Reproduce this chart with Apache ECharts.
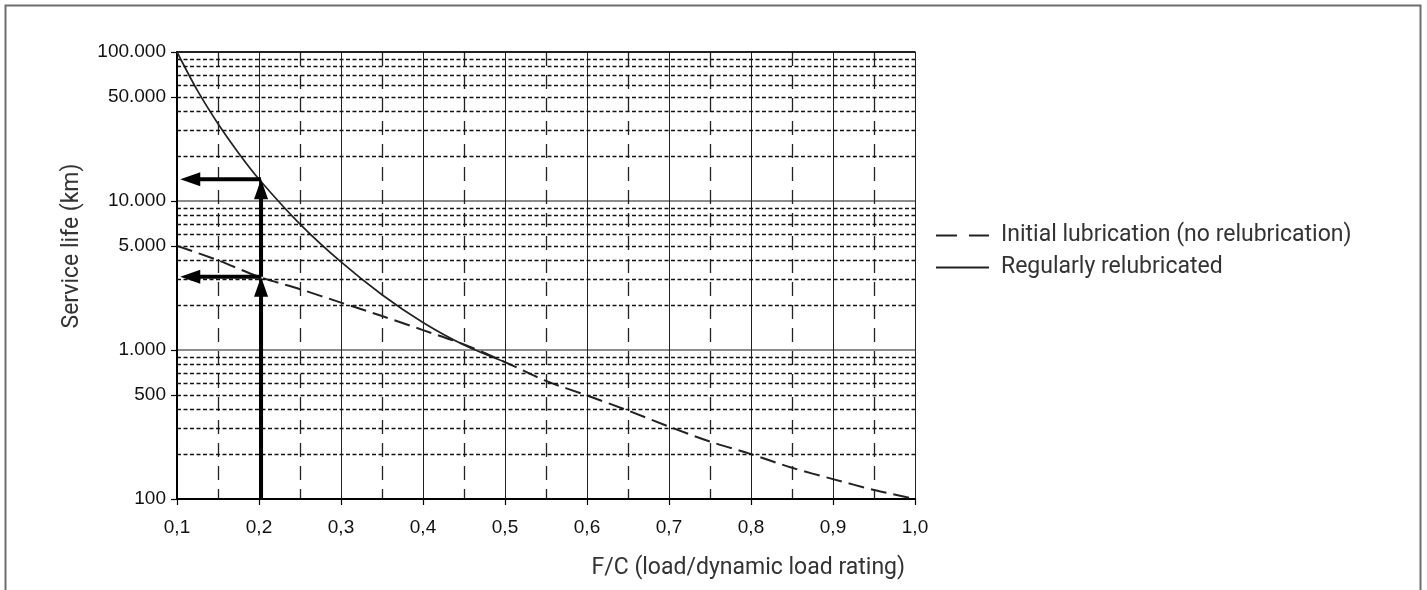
<!DOCTYPE html>
<html><head><meta charset="utf-8">
<script src="https://cdn.jsdelivr.net/npm/echarts@6/dist/echarts.min.js"></script>
<style>html,body{margin:0;padding:0;background:#fff}#c{width:1427px;height:590px}</style>
</head><body><div id="c"></div>
<script>
// ---- data ----
const seriesNames = ['Initial lubrication (no relubrication)', 'Regularly relubricated'];
const xInitial = [0.10, 0.15, 0.20, 0.25, 0.30, 0.35, 0.40, 0.45, 0.50, 0.55, 0.60, 0.65, 0.70, 0.75, 0.80, 0.85, 0.90, 0.95, 1.00];
const lifeInitial = [5000, 4000, 3100, 2560, 2080, 1690, 1360, 1090, 830, 620, 495, 392, 306, 243, 200, 162, 136, 115, 100];
const xRelub = [0.10, 0.125, 0.15, 0.175, 0.20, 0.25, 0.30, 0.35, 0.40, 0.45, 0.50];
const lifeRelub = [100000, 55000, 33000, 21000, 14000, 7000, 3900, 2350, 1530, 1080, 830];
const yTickLabels = [100, 500, 1000, 5000, 10000, 50000, 100000];
const yMinorGrid = [200, 300, 400, 500, 600, 700, 800, 900,
                    2000, 3000, 4000, 5000, 6000, 7000, 8000, 9000,
                    20000, 30000, 40000, 50000, 60000, 70000, 80000, 90000];
const arrowX = 0.2025;      // vertical arrows at F/C = 0.2
const arrowTipX = 0.104;    // horizontal arrows point to the axis
const arrows = [
  [arrowX, 100, arrowX, lifeInitial[2]],
  [arrowX, lifeInitial[2], arrowX, lifeRelub[4]],
  [arrowX, lifeRelub[4], arrowTipX, lifeRelub[4]],
  [arrowX, lifeInitial[2], arrowTipX, lifeInitial[2]]
];

const fmtThousands = n => String(n).replace(/\B(?=(\d{3})+(?!\d))/g, '.');
const yTickPos = yTickLabels.map(v => +Math.log10(v).toFixed(6));
const nameFont = 'Roboto';
const tickFont = 'Liberation Sans';

const chart = echarts.init(document.getElementById('c'), null, {renderer: 'canvas'});
chart.setOption({
  animation: false,
  backgroundColor: '#fff',
  grid: {left: 177, top: 52, width: 738, height: 447},
  legend: {
    orient: 'vertical', left: 935, top: 224, padding: 0, itemWidth: 53, itemHeight: 14, itemGap: 9,
    selectedMode: false,
    itemStyle: {opacity: 0},
    textStyle: {fontSize: 23, fontFamily: nameFont, color: '#333', padding: [0, 0, 0, 7]},
    data: [
      {name: seriesNames[0], lineStyle: {type: [21, 12], width: 2, color: '#222'}},
      {name: seriesNames[1], lineStyle: {width: 2, color: '#222'}}
    ]
  },
  xAxis: [{
    type: 'value', min: 0.1, max: 1.0, interval: 0.1, position: 'bottom',
    axisLine: {onZero: false, lineStyle: {color: '#000', width: 2}},
    axisTick: {length: 6, lineStyle: {color: '#000', width: 1.2}},
    axisLabel: {margin: 19, fontSize: 19, fontFamily: tickFont, color: '#111',
      formatter: v => v.toFixed(1).replace('.', ',')},
    splitLine: {show: true, lineStyle: {color: '#222', width: 1}},
    minorTick: {show: false, splitNumber: 2},
    minorSplitLine: {show: true, lineStyle: {color: '#222', width: 1.3, type: [14, 9]}}
  }, {
    type: 'value', min: 0.1, max: 1.0, position: 'top',
    axisLine: {show: true, onZero: false, lineStyle: {color: '#000', width: 1.5}},
    axisTick: {show: false}, axisLabel: {show: false}, splitLine: {show: false}
  }],
  yAxis: [{
    type: 'log', logBase: 10, min: 100, max: 100000,
    axisLine: {show: true, onZero: false, lineStyle: {color: '#000', width: 2}},
    axisTick: {show: false}, axisLabel: {show: false},
    splitLine: {show: true, lineStyle: {color: '#666', width: 1.5}}
  }, {
    type: 'value', min: 2, max: 5, position: 'left',
    axisLine: {show: false}, splitLine: {show: false},
    axisTick: {show: true, length: 6, customValues: yTickPos, lineStyle: {color: '#000', width: 1.2}},
    axisLabel: {customValues: yTickPos, margin: 11, fontSize: 19, fontFamily: tickFont, color: '#111',
      formatter: v => fmtThousands(Math.round(Math.pow(10, v)))}
  }],
  series: [{
    name: seriesNames[0], type: 'line', xAxisIndex: 0, yAxisIndex: 0,
    data: xInitial.map((x, i) => [x, lifeInitial[i]]),
    symbol: 'none', smooth: 0.3, color: '#222',
    lineStyle: {color: '#222', width: 2, type: [16, 7]},
    markLine: {
      silent: true, symbol: ['none', 'none'], label: {show: false},
      lineStyle: {color: '#111', width: 1.3, type: [4, 2.5]},
      data: yMinorGrid.map(v => ({yAxis: v}))
    }
  }, {
    name: seriesNames[1], type: 'line', xAxisIndex: 0, yAxisIndex: 0,
    data: xRelub.map((x, i) => [x, lifeRelub[i]]),
    symbol: 'none', smooth: 0.3, color: '#222',
    lineStyle: {color: '#222', width: 1.7}
  }, {
    type: 'custom', xAxisIndex: 0, yAxisIndex: 0, silent: true, z: 5,
    data: arrows,
    renderItem: (params, api) => {
      const p0 = api.coord([api.value(0), api.value(1)]);
      const p1 = api.coord([api.value(2), api.value(3)]);
      const dx = p1[0] - p0[0], dy = p1[1] - p0[1];
      const len = Math.hypot(dx, dy) || 1;
      const ux = dx / len, uy = dy / len;
      const hl = 20, hw = 7;
      const bx = p1[0] - ux * hl, by = p1[1] - uy * hl;
      return {type: 'group', children: [
        {type: 'line', shape: {x1: p0[0], y1: p0[1], x2: bx + ux * 2, y2: by + uy * 2},
         style: {stroke: '#000', lineWidth: 4}},
        {type: 'polygon', shape: {points: [[p1[0], p1[1]], [bx - uy * hw, by + ux * hw], [bx + uy * hw, by - ux * hw]]},
         style: {fill: '#000'}}
      ]};
    }
  }],
  graphic: [
    {type: 'rect', silent: true, shape: {x: 5.5, y: 5.5, width: 1415, height: 640},
     style: {fill: 'none', stroke: '#6e6e6e', lineWidth: 2}},
    {type: 'text', x: 72, y: 246, rotation: Math.PI / 2, silent: true,
     style: {text: 'Service life (km)', fontSize: 23, fontFamily: nameFont, fill: '#333', align: 'center', verticalAlign: 'middle'}},
    {type: 'text', x: 905, y: 568, silent: true,
     style: {text: 'F/C (load/dynamic load rating)', fontSize: 23, fontFamily: nameFont, fill: '#333', align: 'right', verticalAlign: 'middle'}}
  ]
});
</script>
</body></html>
